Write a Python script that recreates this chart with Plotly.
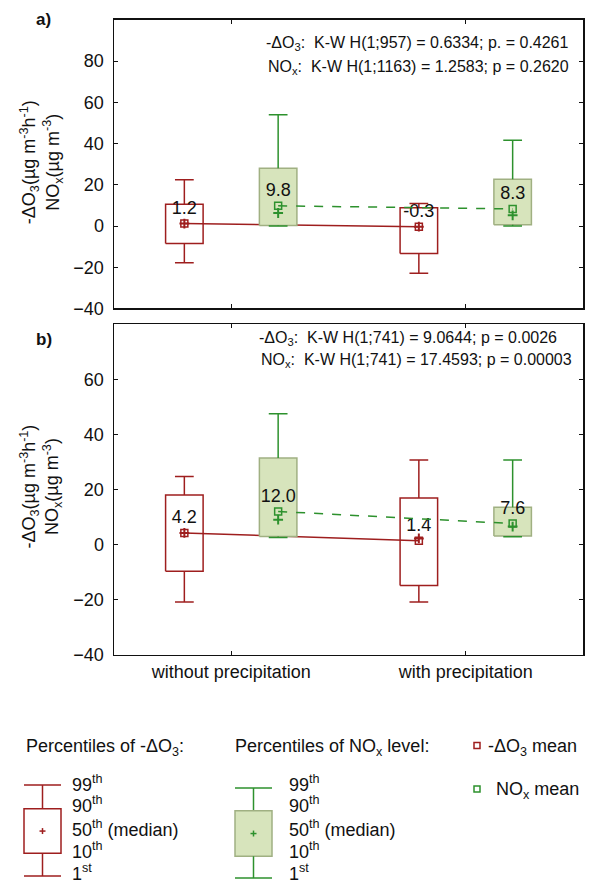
import plotly.graph_objects as go

# ---------------- data ----------------
categories = ["without precipitation", "with precipitation"]

# panel a
a_o3_p1 = [-17.8, -22.9]
a_o3_p10 = [-8.5, -13.3]
a_o3_p50 = [1.2, -0.3]
a_o3_p90 = [10.6, 8.9]
a_o3_p99 = [22.4, 10.9]
a_o3_mean = [1.2, -0.3]

a_nox_p1 = [0.0, 0.0]
a_nox_p10 = [0.3, 0.6]
a_nox_p50 = [6.3, 5.2]
a_nox_p90 = [28.0, 22.7]
a_nox_p99 = [54.0, 41.6]
a_nox_mean = [9.8, 8.3]

# panel b
b_o3_p1 = [-20.9, -20.9]
b_o3_p10 = [-9.7, -14.9]
b_o3_p50 = [4.2, 2.2]
b_o3_p90 = [18.0, 16.9]
b_o3_p99 = [24.7, 30.7]
b_o3_mean = [4.2, 1.4]

b_nox_p1 = [2.5, 2.8]
b_nox_p10 = [2.9, 3.1]
b_nox_p50 = [9.0, 6.5]
b_nox_p90 = [31.4, 13.5]
b_nox_p99 = [47.5, 30.7]
b_nox_mean = [12.0, 7.6]

stats_a = ["-ΔO<sub>3</sub>:  K-W H(1;957) = 0.6334; p. = 0.4261",
           "NO<sub>x</sub>:  K-W H(1;1163) = 1.2583; p = 0.2620"]
stats_b = ["-ΔO<sub>3</sub>:  K-W H(1;741) = 9.0644; p = 0.0026",
           "NO<sub>x</sub>:  K-W H(1;741) = 17.4593; p = 0.00003"]

a_yticks = [-40, -20, 0, 20, 40, 60, 80]
b_yticks = [-40, -20, 0, 20, 40, 60]

# ---------------- style ----------------
W, H = 589, 891
RED = "rgb(158,30,30)"
GREEN = "rgb(45,145,45)"
FILL = "rgb(215,228,188)"
BORDER = "rgb(160,176,130)"
FONT = "Liberation Sans, Arial, sans-serif"
OFF = 0.2
BHW = 0.08
CHW = 0.04
TF = 18   # tick / legend font
SF = 16   # stats font


def px(x):
    return x / W


def py(y):
    return 1 - y / H


fig = go.Figure()


def add_boxes(xa, ya, p1, p10, p50, p90, p99, mean, side, line_col, fill_col, edge_col, dash):
    xs_c = [i + 1 + side * OFF for i in range(len(categories))]
    for i, xc in enumerate(xs_c):
        fig.add_trace(go.Scatter(
            x=[xc - BHW, xc + BHW, xc + BHW, xc - BHW, xc - BHW],
            y=[p10[i], p10[i], p90[i], p90[i], p10[i]],
            mode="lines", fill="toself", fillcolor=fill_col,
            line=dict(color=edge_col, width=1.5),
            xaxis=xa, yaxis=ya, showlegend=False, hoverinfo="skip"))
    wx, wy = [], []
    for i, xc in enumerate(xs_c):
        wx += [xc, xc, None, xc, xc, None,
               xc - CHW, xc + CHW, None, xc - CHW, xc + CHW, None]
        wy += [p90[i], p99[i], None, p10[i], p1[i], None,
               p99[i], p99[i], None, p1[i], p1[i], None]
    fig.add_trace(go.Scatter(x=wx, y=wy, mode="lines",
                             line=dict(color=line_col, width=1.5),
                             xaxis=xa, yaxis=ya, showlegend=False, hoverinfo="skip"))
    fig.add_trace(go.Scatter(x=xs_c, y=mean, mode="lines",
                             line=dict(color=line_col, width=1.5, dash=dash),
                             xaxis=xa, yaxis=ya, showlegend=False, hoverinfo="skip"))
    fig.add_trace(go.Scatter(x=xs_c, y=p50, mode="markers",
                             marker=dict(symbol="cross-thin", size=7, color=line_col,
                                         line=dict(color=line_col, width=2)),
                             xaxis=xa, yaxis=ya, showlegend=False, hoverinfo="skip"))
    fig.add_trace(go.Scatter(x=xs_c, y=mean, mode="markers+text",
                             text=["%.1f" % m for m in mean],
                             textposition="top center",
                             textfont=dict(size=TF, color="#111", family=FONT),
                             marker=dict(symbol="square-open", size=7, color=line_col,
                                         line=dict(color=line_col, width=1.5)),
                             xaxis=xa, yaxis=ya, showlegend=False, hoverinfo="skip"))


add_boxes("x", "y", a_o3_p1, a_o3_p10, a_o3_p50, a_o3_p90, a_o3_p99, a_o3_mean,
          -1, RED, "rgba(255,255,255,0)", RED, "solid")
add_boxes("x", "y", a_nox_p1, a_nox_p10, a_nox_p50, a_nox_p90, a_nox_p99, a_nox_mean,
          1, GREEN, FILL, BORDER, "dash")
add_boxes("x2", "y2", b_o3_p1, b_o3_p10, b_o3_p50, b_o3_p90, b_o3_p99, b_o3_mean,
          -1, RED, "rgba(255,255,255,0)", RED, "solid")
add_boxes("x2", "y2", b_nox_p1, b_nox_p10, b_nox_p50, b_nox_p90, b_nox_p99, b_nox_mean,
          1, GREEN, FILL, BORDER, "dash")

xdom = [px(114), px(583)]
ax_common = dict(showline=True, linecolor="#111", linewidth=1.5, mirror="ticks",
                 ticks="inside", ticklen=4, tickcolor="#111", showgrid=False,
                 zeroline=False, tickfont=dict(size=TF, color="#111", family=FONT))

fig.update_layout(
    width=W, height=H, autosize=False,
    margin=dict(l=0, r=0, t=0, b=0),
    paper_bgcolor="white", plot_bgcolor="white",
    font=dict(family=FONT, color="#111"),
    xaxis=dict(domain=xdom, range=[0.5, 2.5], anchor="y",
               tickvals=[1, 2], ticktext=categories, showticklabels=False, **ax_common),
    yaxis=dict(domain=[py(312), py(20)], range=[-40, 100], anchor="x",
               tickvals=a_yticks, ticklabelstandoff=5, **ax_common),
    xaxis2=dict(domain=xdom, range=[0.5, 2.5], anchor="y2",
                tickvals=[1, 2], ticktext=categories, **ax_common),
    yaxis2=dict(domain=[py(662), py(328)], range=[-40, 80], anchor="x2",
                tickvals=b_yticks, ticklabelstandoff=5, **ax_common),
)

ann = []


def text(x, y, t, size, xanchor="left", angle=0):
    ann.append(dict(x=px(x), y=py(y), xref="paper", yref="paper", text=t,
                    textangle=angle, showarrow=False, xanchor=xanchor, yanchor="middle",
                    font=dict(size=size, family=FONT, color="#111")))


ytitle = ("-ΔO<sub>3</sub>(µg m<sup>-3</sup>h<sup>-1</sup>)<br>"
          "NO<sub>x</sub>(µg m<sup>-3</sup>)")
for yc in (164, 492):
    text(41, yc, ytitle, TF, xanchor="center", angle=-90)
text(34, 20, "<b>a)</b>", 17)
text(34, 343, "<b>b)</b>", 17)
for i, t in enumerate(stats_a):
    text(264 if i == 0 else 266, 44 + 24 * i, t, SF)
for i, t in enumerate(stats_b):
    text(257 if i == 0 else 259, 342 + 23 * i, t, SF)

# legend
text(24, 756, "Percentiles of -ΔO<sub>3</sub>:", TF)
text(233, 756, "Percentiles of NO<sub>x</sub> level:", TF)
text(486, 756, "-ΔO<sub>3</sub> mean", TF)
text(494, 799, "NO<sub>x</sub> mean", TF)
leg_labels = ["99<sup>th</sup>", "90<sup>th</sup>", "50<sup>th</sup> (median)",
              "10<sup>th</sup>", "1<sup>st</sup>"]
leg_y = [792, 814, 838, 860, 882]
for x0 in (70, 287):
    for lab, yy in zip(leg_labels, leg_y):
        text(x0, yy, lab, TF)

shapes = []


def legend_glyph(xl, xr, ytop, bt, bb, ybot, col, fill, edge):
    xc = (xl + xr) / 2
    L = dict(xref="paper", yref="paper")
    shapes.append(dict(type="line", x0=px(xl), x1=px(xr), y0=py(ytop), y1=py(ytop),
                       line=dict(color=col, width=1.5), **L))
    shapes.append(dict(type="line", x0=px(xc), x1=px(xc), y0=py(ytop), y1=py(bt),
                       line=dict(color=col, width=1.5), **L))
    shapes.append(dict(type="rect", x0=px(xl), x1=px(xr), y0=py(bb), y1=py(bt),
                       fillcolor=fill, line=dict(color=edge, width=1.5), **L))
    shapes.append(dict(type="line", x0=px(xc), x1=px(xc), y0=py(bb), y1=py(ybot),
                       line=dict(color=col, width=1.5), **L))
    shapes.append(dict(type="line", x0=px(xl), x1=px(xr), y0=py(ybot), y1=py(ybot),
                       line=dict(color=col, width=1.5), **L))
    shapes.append(dict(type="line", x0=px(xc - 3), x1=px(xc + 3), y0=py((bt + bb) / 2),
                       y1=py((bt + bb) / 2), line=dict(color=col, width=1.5), **L))
    shapes.append(dict(type="line", x0=px(xc), x1=px(xc), y0=py((bt + bb) / 2 - 3),
                       y1=py((bt + bb) / 2 + 3), line=dict(color=col, width=1.5), **L))


legend_glyph(24, 61, 794, 818, 863, 886, RED, "rgba(0,0,0,0)", RED)
legend_glyph(235, 272, 797, 820, 866, 888, GREEN, FILL, BORDER)
for yy, col in ((754, RED), (798, GREEN)):
    shapes.append(dict(type="rect", xref="paper", yref="paper",
                       x0=px(474), x1=px(480), y0=py(yy + 3), y1=py(yy - 3),
                       line=dict(color=col, width=1.5)))

fig.update_layout(annotations=ann, shapes=shapes)
fig.write_html("out.html",
               config={"displayModeBar": False, "staticPlot": True},
               post_script="document.body.style.margin='0';"
                           "document.body.style.overflow='hidden';")
